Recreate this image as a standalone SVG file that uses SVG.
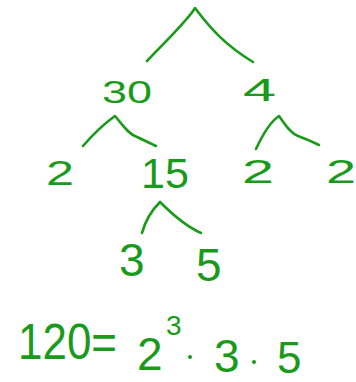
<svg xmlns="http://www.w3.org/2000/svg" width="356" height="382" viewBox="0 0 356 382">
<style>
.t{font-family:"Liberation Sans","DejaVu Sans",sans-serif;fill:#1a9a1a;font-weight:normal}
.c{fill:none;stroke:#1a9a1a;stroke-width:2.6;stroke-linecap:round;stroke-linejoin:round}
</style>
<rect width="356" height="382" fill="#ffffff"/>
<g id="connectors">
<path class="c" d="M147,61 C165,42 183,25 193,11 L195,8 C210,28 225,45 253,62"/>
<path class="c" d="M83,146 C95,132 108,121 115,116 C122,124 128,134 137,137 C143,140 150,143 156,146"/>
<path class="c" d="M256,149 C262,136 270,122 279,116 C285,124 290,133 298,136 C306,139 313,142 319,145"/>
<path class="c" d="M142,233 C145,222 152,210 160,202 C170,212 185,226 201,233"/>
</g>
<g id="n30"><text class="t" x="102" y="103" font-size="31" textLength="50" lengthAdjust="spacingAndGlyphs">30</text></g>
<g id="n4"><text class="t" x="243" y="101" font-size="32" textLength="33" lengthAdjust="spacingAndGlyphs">4</text></g>
<g id="n2a"><text class="t" x="46" y="185" font-size="35" textLength="28" lengthAdjust="spacingAndGlyphs">2</text></g>
<g id="n15"><text class="t" x="141" y="188" font-size="43" textLength="48" lengthAdjust="spacingAndGlyphs">15</text></g>
<g id="n2b"><text class="t" x="242" y="183" font-size="33" textLength="32" lengthAdjust="spacingAndGlyphs">2</text></g>
<g id="n2c"><text class="t" x="326" y="183" font-size="33" textLength="30" lengthAdjust="spacingAndGlyphs">2</text></g>
<g id="n3"><text class="t" x="119" y="276" font-size="46">3</text></g>
<g id="n5"><text class="t" x="196" y="281" font-size="46">5</text></g>
<g id="equation">
<text class="t" x="18" y="359" font-size="50" textLength="99" lengthAdjust="spacingAndGlyphs">120=</text>
<text class="t" x="137" y="370" font-size="46">2</text>
<text class="t" x="166" y="335" font-size="28">3</text>
<circle cx="190" cy="357" r="2" fill="#1a9a1a"/>
<text class="t" x="214" y="372" font-size="46">3</text>
<circle cx="254" cy="362" r="2" fill="#1a9a1a"/>
<text class="t" x="277" y="373" font-size="44">5</text>
</g>
</svg>
